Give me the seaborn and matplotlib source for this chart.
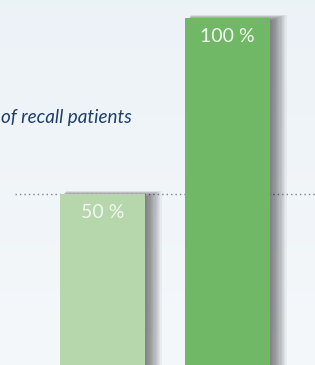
import numpy as np
import pandas as pd
import matplotlib
matplotlib.use("Agg")
import matplotlib.pyplot as plt
import seaborn as sns

categories = ["Before", "After"]
values = [50, 100]
labels = ["50 %", "100 %"]
bar_colors = ["#b5d7ab", "#70b865"]
reference_level = 50
caption = "of recall patients"

sns.set_theme(style="white")
plt.rcParams['font.family'] = ['Lato', 'DejaVu Sans']

fig = plt.figure(figsize=(3.15, 3.65), dpi=100)
ax = fig.add_axes([0, 0, 1, 1])

# background gradient
grad = np.linspace(0, 1, 256).reshape(-1, 1)
top = np.array([0.925, 0.950, 0.968])
bot = np.array([0.960, 0.972, 0.984])
img = top[None, None, :] * (1 - grad[:, :, None]) + bot[None, None, :] * grad[:, :, None]
ax.imshow(img, extent=[0, 1, 0, 1], transform=ax.transAxes, aspect='auto', zorder=0)

df = pd.DataFrame({"cat": categories, "val": values})
width = 0.68
px_per_x = 125.0
px_per_y = 3.52

# soft shadows
xs = np.arange(len(values))
vals = np.array(values, dtype=float)
for k in range(1, 14):
    ax.bar(xs - width / 2 + (2 + k * 0.3) / px_per_x, vals + (k * 0.45 - 2.5) / px_per_y,
           width=width + (k * 0.9 - 1) / px_per_x, align="edge",
           color="black", alpha=0.045, linewidth=0, zorder=2)

# dotted reference line
ax.hlines(reference_level, -0.70, 1.8, colors="#80858a", linestyles=(0, (1, 2.2)),
          linewidth=1.0, zorder=1)

sns.barplot(data=df, x="cat", y="val", hue="cat", palette=bar_colors, dodge=False,
            legend=False, width=width, ax=ax, zorder=3, linewidth=0, saturation=1)

for i, (v, lab) in enumerate(zip(values, labels)):
    ax.text(i, v - 18.5 / px_per_y, lab, ha="center", va="center", color="#f2f7ef",
            fontsize=14, fontweight="normal", zorder=6)

ax.text(-102.5 / px_per_x + 1 / px_per_x, 100 + (18 - 123) / px_per_y, caption,
        ha="left", va="baseline", color="#1d3e6c", fontsize=13.6, style="italic",
        zorder=6)

ax.set_xlim(-102.5 / px_per_x, (315 - 102.5) / px_per_x)
ax.set_ylim((370 - 365) / px_per_y, 100 + 18 / px_per_y)
ax.set_axis_off()

fig.savefig("out.png", dpi=100)
